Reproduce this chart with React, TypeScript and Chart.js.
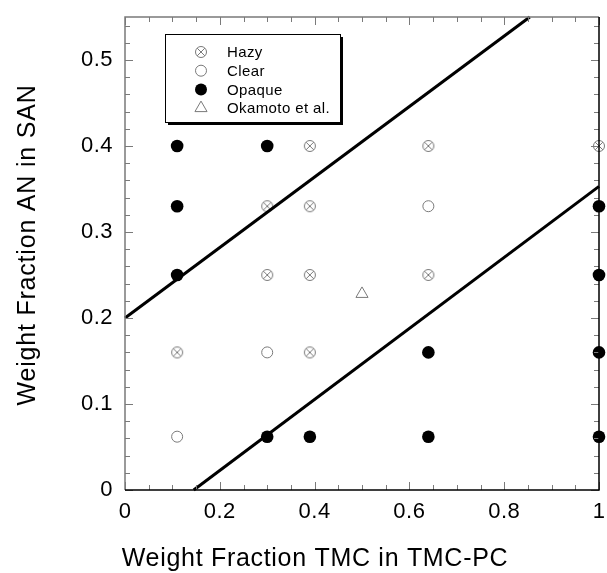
import React, { useEffect, useRef } from 'react';
import { Chart, registerables } from 'chart.js';

Chart.register(...registerables);

// ---- data ----
const hazyX = [0.11, 0.3, 0.3, 0.39, 0.39, 0.39, 0.39, 0.64, 0.64, 1.0];
const hazyY = [0.16, 0.33, 0.25, 0.4, 0.33, 0.25, 0.16, 0.4, 0.25, 0.4];
const clearX = [0.11, 0.3, 0.64];
const clearY = [0.062, 0.16, 0.33];
const opaqueX = [0.11, 0.11, 0.11, 0.3, 0.3, 0.39, 0.64, 0.64, 1.0, 1.0, 1.0, 1.0];
const opaqueY = [0.4, 0.33, 0.25, 0.4, 0.062, 0.062, 0.16, 0.062, 0.33, 0.25, 0.16, 0.062];
const okamotoX = [0.5];
const okamotoY = [0.228];
const upperLineX = [0, 0.854];
const upperLineY = [0.2, 0.55];
const lowerLineX = [0.145, 1.0];
const lowerLineY = [0, 0.353];

const xTicks = [0, 0.2, 0.4, 0.6, 0.8, 1];
const yTicks = [0, 0.1, 0.2, 0.3, 0.4, 0.5];
const legendLabels = ['Hazy', 'Clear', 'Opaque', 'Okamoto et al.'];
const xTitle = 'Weight Fraction TMC in TMC-PC';
const yTitle = 'Weight Fraction AN in SAN';

const FONT = "'Liberation Sans', Arial, Helvetica, sans-serif";
const GRAY = '#7a7a7a';

const pts = (xs: number[], ys: number[]) => xs.map((x, i) => ({ x, y: ys[i] }));

function makeHazy(): HTMLCanvasElement {
  const c = document.createElement('canvas');
  c.width = 14; c.height = 14;
  const g = c.getContext('2d')!;
  g.strokeStyle = GRAY; g.lineWidth = 1;
  g.beginPath(); g.arc(7, 7, 5.5, 0, Math.PI * 2); g.stroke();
  const d = 5.5 * Math.SQRT1_2;
  g.beginPath();
  g.moveTo(7 - d, 7 - d); g.lineTo(7 + d, 7 + d);
  g.moveTo(7 + d, 7 - d); g.lineTo(7 - d, 7 + d);
  g.stroke();
  return c;
}

function drawMarker(ctx: CanvasRenderingContext2D, kind: number, x: number, y: number, hazy: HTMLCanvasElement) {
  ctx.save();
  if (kind === 0) {
    ctx.drawImage(hazy, x - 7, y - 7);
  } else if (kind === 1) {
    ctx.strokeStyle = GRAY; ctx.lineWidth = 1;
    ctx.beginPath(); ctx.arc(x, y, 5.5, 0, Math.PI * 2); ctx.stroke();
  } else if (kind === 2) {
    ctx.fillStyle = '#000';
    ctx.beginPath(); ctx.arc(x, y, 6, 0, Math.PI * 2); ctx.fill();
  } else {
    ctx.strokeStyle = GRAY; ctx.lineWidth = 1;
    const r = 7;
    ctx.beginPath();
    ctx.moveTo(x, y - r);
    ctx.lineTo(x + r * 0.866, y + r * 0.5);
    ctx.lineTo(x - r * 0.866, y + r * 0.5);
    ctx.closePath(); ctx.stroke();
  }
  ctx.restore();
}

export default function App() {
  const ref = useRef<HTMLCanvasElement>(null);
  useEffect(() => {
    const hazy = makeHazy();
    const framePlugin = {
      id: 'frame',
      beforeDraw(chart: any) {
        (chart.ctx as any).letterSpacing = '0.5px';
      },
      afterDatasetsDraw(chart: any) {
        const { ctx, chartArea } = chart;
        const { left, right, top, bottom } = chartArea;
        const xs = chart.scales.x, ys = chart.scales.y;
        ctx.save();
        ctx.strokeStyle = GRAY; ctx.lineWidth = 1;
        ctx.beginPath();
        for (let i = 0; i <= 20; i++) {
          const px = Math.round(xs.getPixelForValue(i * 0.05)) + 0.5;
          const len = i % 4 === 0 ? 8 : 5;
          ctx.moveTo(px, bottom); ctx.lineTo(px, bottom - len);
          ctx.moveTo(px, top); ctx.lineTo(px, top + len);
        }
        for (let i = 0; i <= 27; i++) {
          const py = Math.round(ys.getPixelForValue(i * 0.02)) + 0.5;
          const len = i % 5 === 0 ? 8 : 5;
          ctx.moveTo(left, py); ctx.lineTo(left + len, py);
          ctx.moveTo(right, py); ctx.lineTo(right - len, py);
        }
        ctx.stroke();
        ctx.lineWidth = 1.5;
        ctx.strokeStyle = GRAY;
        ctx.beginPath();
        ctx.moveTo(left, bottom); ctx.lineTo(left, top); ctx.lineTo(right, top);
        ctx.stroke();
        ctx.strokeStyle = '#000';
        ctx.beginPath();
        ctx.moveTo(left, bottom); ctx.lineTo(right, bottom); ctx.lineTo(right, top);
        ctx.stroke();
        ctx.restore();
      },
      afterDraw(chart: any) {
        const ctx = chart.ctx as any;
        // legend
        const bx = 165, by = 34, bw = 175, bh = 88;
        ctx.save();
        ctx.fillStyle = '#000';
        ctx.fillRect(bx + 3, by + 3, bw, bh);
        ctx.fillStyle = '#fff';
        ctx.fillRect(bx, by, bw, bh);
        ctx.strokeStyle = '#000'; ctx.lineWidth = 1;
        ctx.strokeRect(bx + 0.5, by + 0.5, bw, bh);
        ctx.letterSpacing = '0.4px';
        ctx.font = `15px ${FONT}`;
        ctx.fillStyle = '#000';
        ctx.textBaseline = 'middle';
        ctx.textAlign = 'left';
        legendLabels.forEach((lab, i) => {
          const yy = by + 18 + i * 18.7;
          drawMarker(ctx, i, 201, yy, hazy);
          ctx.fillText(lab, 227, yy + 1);
        });
        // axis titles
        ctx.letterSpacing = '0.7px';
        ctx.font = `25px ${FONT}`;
        ctx.textAlign = 'center';
        ctx.textBaseline = 'alphabetic';
        ctx.fillText(xTitle, 315, 566);
        ctx.translate(35, 245);
        ctx.rotate(-Math.PI / 2);
        ctx.letterSpacing = '0.8px';
        ctx.fillText(yTitle, 0, 0);
        ctx.restore();
        ctx.letterSpacing = '0px';
      },
    };

    const chart = new Chart(ref.current!, {
      type: 'scatter',
      data: {
        datasets: [
          { data: pts(upperLineX, upperLineY), showLine: true, borderColor: '#000', borderWidth: 3, pointRadius: 0, clip: false } as any,
          { data: pts(lowerLineX, lowerLineY), showLine: true, borderColor: '#000', borderWidth: 3, pointRadius: 0, clip: false } as any,
          { label: legendLabels[0], data: pts(hazyX, hazyY), pointStyle: hazy, pointRadius: 6, clip: false } as any,
          { label: legendLabels[1], data: pts(clearX, clearY), pointStyle: 'circle', pointRadius: 5.5, borderColor: GRAY, borderWidth: 1, backgroundColor: 'rgba(0,0,0,0)', clip: false } as any,
          { label: legendLabels[2], data: pts(opaqueX, opaqueY), pointStyle: 'circle', pointRadius: 6.3, borderColor: '#000', borderWidth: 0, backgroundColor: '#000', clip: false } as any,
          { label: legendLabels[3], data: pts(okamotoX, okamotoY), pointStyle: 'triangle', pointRadius: 7, borderColor: GRAY, borderWidth: 1, backgroundColor: 'rgba(0,0,0,0)', clip: false } as any,
        ],
      },
      options: {
        animation: false,
        responsive: false,
        events: [],
        layout: { padding: { left: 0, top: 17, right: 7, bottom: 0 } },
        plugins: { legend: { display: false }, tooltip: { enabled: false } },
        scales: {
          x: {
            type: 'linear', min: 0, max: 1,
            grid: { display: false, drawTicks: false },
            border: { display: false },
            afterBuildTicks: (s: any) => { s.ticks = xTicks.map((v) => ({ value: v })); },
            afterFit: (s: any) => { s.height = 83; s.paddingLeft = 0; s.paddingRight = 0; },
            ticks: {
              color: '#000', padding: 9, maxRotation: 0,
              font: { family: FONT, size: 22 },
              callback: (v: any) => String(Math.round(Number(v) * 10) / 10),
            },
            title: { display: false },
          },
          y: {
            type: 'linear', min: 0, max: 0.55,
            grid: { display: false, drawTicks: false },
            border: { display: false },
            afterBuildTicks: (s: any) => { s.ticks = yTicks.map((v) => ({ value: v })); },
            afterFit: (s: any) => { s.width = 125; s.paddingTop = 0; s.paddingBottom = 0; },
            ticks: {
              color: '#000', padding: 12,
              font: { family: FONT, size: 22 },
              callback: (v: any) => String(Math.round(Number(v) * 10) / 10),
            },
            title: { display: false },
          },
        },
      },
      plugins: [framePlugin],
    } as any);
    return () => chart.destroy();
  }, []);
  return (
    <div style={{ position: 'fixed', left: 0, top: 0, width: 607, height: 573, background: '#fff' }}>
      <canvas ref={ref} width={607} height={573} style={{ display: 'block' }} />
    </div>
  );
}
